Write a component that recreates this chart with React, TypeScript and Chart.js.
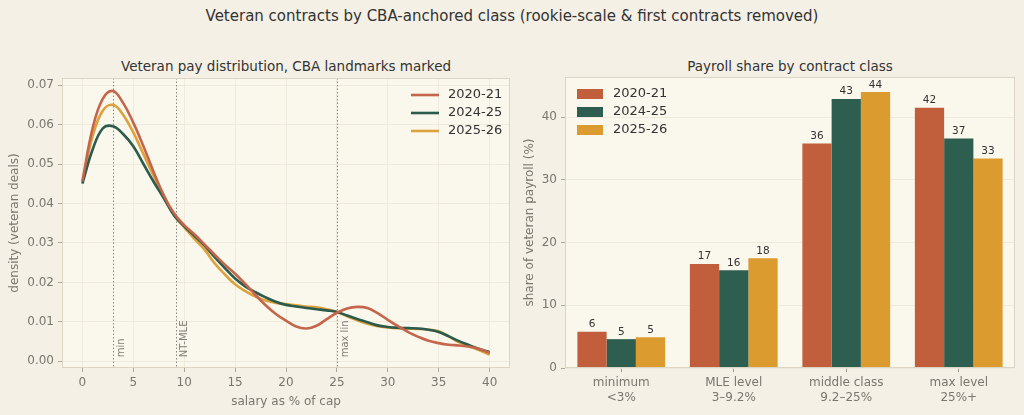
import { useEffect, useRef } from 'react';
import { Chart, registerables } from 'chart.js';

Chart.register(...registerables);

// ---- data ----
const seasons = ['2020-21', '2024-25', '2025-26'];
const lineColors = ['#c4664b', '#2c5a4b', '#dea23c'];
const barColors = ['#c15f3c', '#2e5e4f', '#dc9b2e'];

const salaryPct = [
  0, 1, 2, 3, 4, 5, 6, 7, 8, 9, 10, 11, 12, 13, 14, 15, 16, 17, 18, 19, 20,
  21, 22, 23, 24, 25, 26, 27, 28, 29, 30, 31, 32, 33, 34, 35, 36, 37, 38, 39, 40,
];
const density2021 = [
  0.0456, 0.059, 0.0665, 0.0685, 0.0655, 0.0605, 0.0545, 0.048, 0.042, 0.0375, 0.0345,
  0.0322, 0.0296, 0.027, 0.0245, 0.0222, 0.0196, 0.0168, 0.0142, 0.012, 0.0103,
  0.0088, 0.0083, 0.009, 0.0107, 0.0123, 0.0134, 0.0138, 0.0135, 0.0122, 0.0105,
  0.0089, 0.0074, 0.0062, 0.0052, 0.0046, 0.0042, 0.004, 0.0037, 0.0031, 0.0021,
];
const density2425 = [
  0.045, 0.0536, 0.059, 0.0596, 0.0576, 0.0545, 0.05, 0.0455, 0.0413, 0.037, 0.0342,
  0.0318, 0.0293, 0.0264, 0.0236, 0.021, 0.019, 0.0175, 0.0162, 0.0151, 0.0143,
  0.0139, 0.0135, 0.0132, 0.0129, 0.0125, 0.0116, 0.0107, 0.0099, 0.0091, 0.0087,
  0.0085, 0.0084, 0.0083, 0.008, 0.0074, 0.0063, 0.0051, 0.0041, 0.0031, 0.0023,
];
const density2526 = [
  0.0456, 0.057, 0.0635, 0.065, 0.0625, 0.058, 0.0525, 0.047, 0.042, 0.037, 0.034,
  0.031, 0.0283, 0.0248, 0.022, 0.0195, 0.0178, 0.0164, 0.0154, 0.0148, 0.0145,
  0.0142, 0.0139, 0.0137, 0.0132, 0.0125, 0.0114, 0.0104, 0.0095, 0.0089, 0.0086,
  0.0084, 0.0083, 0.0082, 0.008, 0.0076, 0.0063, 0.0048, 0.0038, 0.0028, 0.0017,
];
const landmarks = [3, 9.2, 25];
const landmarkLabels = ['min', 'NT-MLE', 'max lin'];
const salaryTicks = [0, 5, 10, 15, 20, 25, 30, 35, 40];
const densityTicks = [0, 0.01, 0.02, 0.03, 0.04, 0.05, 0.06, 0.07];

const contractClasses = [
  ['minimum', '<3%'],
  ['MLE level', '3–9.2%'],
  ['middle class', '9.2–25%'],
  ['max level', '25%+'],
];
const share2021 = [5.8, 16.6, 35.8, 41.5];
const share2425 = [4.6, 15.6, 42.9, 36.6];
const share2526 = [4.9, 17.5, 44.0, 33.4];
const shareTicks = [0, 10, 20, 30, 40];

// ---- styling ----
const FONT = '"DejaVu Sans", sans-serif';
const FIG_BG = '#f4f0e5';
const AX_BG = '#faf7ec';
const GRID = '#ebe6d8';
const SPINE = '#dcd5c4';
const TICK_TEXT = '#7a7670';
const DARK = '#333333';

Chart.defaults.font.family = FONT;
Chart.defaults.color = TICK_TEXT;

// axes background + frame like matplotlib
const axesFrame = {
  id: 'axesFrame',
  beforeDraw(chart: Chart) {
    const { ctx, chartArea: a } = chart;
    ctx.save();
    ctx.fillStyle = AX_BG;
    ctx.fillRect(a.left, a.top, a.right - a.left, a.bottom - a.top);
    ctx.restore();
  },
  afterDraw(chart: Chart) {
    const { ctx, chartArea: a } = chart;
    ctx.save();
    ctx.strokeStyle = SPINE;
    ctx.lineWidth = 1;
    ctx.strokeRect(a.left + 0.5, a.top + 0.5, a.right - a.left - 1, a.bottom - a.top - 1);
    ctx.restore();
  },
};

// dotted CBA landmark lines with rotated labels
const landmarkLines = {
  id: 'landmarkLines',
  beforeDatasetsDraw(chart: Chart) {
    const { ctx, chartArea: a } = chart;
    const x = chart.scales.x;
    const y = chart.scales.y;
    ctx.save();
    landmarks.forEach((v, i) => {
      const px = Math.round(x.getPixelForValue(v)) + 0.5;
      ctx.strokeStyle = '#8a8680';
      ctx.lineWidth = 1;
      ctx.setLineDash([1.5, 2]);
      ctx.beginPath();
      ctx.moveTo(px, a.top);
      ctx.lineTo(px, a.bottom);
      ctx.stroke();
      ctx.setLineDash([]);
      ctx.save();
      ctx.translate(x.getPixelForValue(v + 0.35), y.getPixelForValue(0.001));
      ctx.rotate(-Math.PI / 2);
      ctx.font = `10px ${FONT}`;
      ctx.fillStyle = '#807c76';
      ctx.textAlign = 'left';
      ctx.textBaseline = 'top';
      ctx.fillText(landmarkLabels[i], 0, 0);
      ctx.restore();
    });
    ctx.restore();
  },
};

// legend drawn inside the plot area
function innerLegend(kind: 'line' | 'box') {
  return {
    id: 'innerLegend',
    afterDraw(chart: Chart) {
      const { ctx, chartArea: a } = chart;
      ctx.save();
      ctx.font = `13px ${FONT}`;
      ctx.textBaseline = 'middle';
      ctx.textAlign = 'left';
      seasons.forEach((s, i) => {
        const cy = a.top + 17 + i * 18;
        if (kind === 'line') {
          const x0 = a.right - 99;
          ctx.strokeStyle = lineColors[i];
          ctx.lineWidth = 2.6;
          ctx.beginPath();
          ctx.moveTo(x0, cy);
          ctx.lineTo(x0 + 28, cy);
          ctx.stroke();
          ctx.fillStyle = DARK;
          ctx.fillText(s, x0 + 37, cy);
        } else {
          const x0 = a.left + 12;
          ctx.fillStyle = barColors[i];
          ctx.fillRect(x0, cy - 5, 26, 10);
          ctx.fillStyle = DARK;
          ctx.fillText(s, x0 + 36, cy);
        }
      });
      ctx.restore();
    },
  };
}

// rounded value above each bar
const barValues = {
  id: 'barValues',
  afterDatasetsDraw(chart: Chart) {
    const { ctx } = chart;
    ctx.save();
    ctx.font = `10.5px ${FONT}`;
    ctx.fillStyle = DARK;
    ctx.textAlign = 'center';
    ctx.textBaseline = 'bottom';
    chart.data.datasets.forEach((ds, di) => {
      chart.getDatasetMeta(di).data.forEach((bar: any, i) => {
        const v = ds.data[i] as number;
        ctx.fillText(String(Math.round(v)), bar.x, bar.y - 2);
      });
    });
    ctx.restore();
  },
};

function DensityChart() {
  const ref = useRef<HTMLCanvasElement>(null);
  useEffect(() => {
    if (!ref.current) return;
    const series = [density2021, density2425, density2526];
    const chart = new Chart(ref.current, {
      type: 'line',
      data: {
        datasets: series.map((d, i) => ({
          label: seasons[i],
          data: salaryPct.map((x, j) => ({ x, y: d[j] })),
          borderColor: lineColors[i],
          borderWidth: 2.6,
          pointRadius: 0,
          tension: 0.4,
          fill: false,
        })),
      },
      options: {
        animation: false,
        responsive: false,
        layout: { padding: { top: 18, right: 2, left: 0, bottom: 0 } },
        plugins: { legend: { display: false }, tooltip: { enabled: false } },
        scales: {
          x: {
            type: 'linear',
            min: -2,
            max: 42,
            afterBuildTicks: (s: any) => {
              s.ticks = salaryTicks.map((v) => ({ value: v }));
            },
            afterFit: (s: any) => {
              s.height = 47;
            },
            grid: { color: GRID, tickColor: '#9a958d', tickLength: 4, lineWidth: 0.8 },
            border: { display: false },
            ticks: { font: { size: 12 }, color: TICK_TEXT, padding: 4, maxRotation: 0 },
            title: {
              display: true,
              text: 'salary as % of cap',
              font: { size: 12 },
              color: TICK_TEXT,
              padding: { top: 0, bottom: 6 },
            },
          },
          y: {
            min: -0.0017,
            max: 0.0718,
            afterBuildTicks: (s: any) => {
              s.ticks = densityTicks.map((v) => ({ value: v }));
            },
            afterFit: (s: any) => {
              s.width = 62;
            },
            grid: { color: GRID, tickColor: '#9a958d', tickLength: 4, lineWidth: 0.8 },
            border: { display: false },
            ticks: {
              font: { size: 12 },
              color: TICK_TEXT,
              padding: 4,
              callback: (v: any) => Number(v).toFixed(2),
            },
            title: {
              display: true,
              text: 'density (veteran deals)',
              font: { size: 12 },
              color: TICK_TEXT,
              padding: { top: 8, bottom: 0 },
            },
          },
        },
      },
      plugins: [axesFrame, landmarkLines, innerLegend('line')],
    });
    return () => chart.destroy();
  }, []);
  return <canvas ref={ref} width={512} height={355} style={{ width: 512, height: 355 }} />;
}

function ShareChart() {
  const ref = useRef<HTMLCanvasElement>(null);
  useEffect(() => {
    if (!ref.current) return;
    const series = [share2021, share2425, share2526];
    const chart = new Chart(ref.current, {
      type: 'bar',
      data: {
        labels: contractClasses,
        datasets: series.map((d, i) => ({
          label: seasons[i],
          data: d,
          backgroundColor: barColors[i],
          borderWidth: 0,
          categoryPercentage: 0.78,
          barPercentage: 1,
        })),
      },
      options: {
        animation: false,
        responsive: false,
        layout: { padding: { top: 17, right: 9, left: 0, bottom: 0 } },
        plugins: { legend: { display: false }, tooltip: { enabled: false } },
        scales: {
          x: {
            afterFit: (s: any) => {
              s.height = 47;
            },
            grid: {
              offset: false,
              drawOnChartArea: false,
              tickColor: '#9a958d',
              tickLength: 4,
            },
            border: { display: false },
            ticks: { font: { size: 12, lineHeight: 1.2 }, color: TICK_TEXT, padding: 4, maxRotation: 0 },
          },
          y: {
            min: 0,
            max: 46.4,
            afterBuildTicks: (s: any) => {
              s.ticks = shareTicks.map((v) => ({ value: v }));
            },
            afterFit: (s: any) => {
              s.width = 53;
            },
            grid: { color: GRID, tickColor: '#9a958d', tickLength: 4, lineWidth: 0.8 },
            border: { display: false },
            ticks: { font: { size: 12 }, color: TICK_TEXT, padding: 4 },
            title: {
              display: true,
              text: 'share of veteran payroll (%)',
              font: { size: 12 },
              color: TICK_TEXT,
              padding: { top: 11, bottom: 0 },
            },
          },
        },
      },
      plugins: [axesFrame, barValues, innerLegend('box')],
    });
    return () => chart.destroy();
  }, []);
  return <canvas ref={ref} width={512} height={355} style={{ width: 512, height: 355 }} />;
}

export default function App() {
  const titleStyle = {
    position: 'absolute' as const,
    fontFamily: FONT,
    color: DARK,
    whiteSpace: 'nowrap' as const,
    transform: 'translateX(-50%)',
  };
  return (
    <div
      style={{
        position: 'fixed',
        left: 0,
        top: 0,
        width: 1024,
        height: 415,
        background: FIG_BG,
        overflow: 'hidden',
      }}
    >
      <div style={{ ...titleStyle, left: 512, top: 7, fontSize: 15 }}>
        Veteran contracts by CBA-anchored class (rookie-scale &amp; first contracts removed)
      </div>
      <div style={{ ...titleStyle, left: 286, top: 58, fontSize: 13.5 }}>
        Veteran pay distribution, CBA landmarks marked
      </div>
      <div style={{ ...titleStyle, left: 790, top: 58, fontSize: 13.5 }}>
        Payroll share by contract class
      </div>
      <div style={{ position: 'absolute', left: 0, top: 60 }}>
        <DensityChart />
      </div>
      <div style={{ position: 'absolute', left: 512, top: 60 }}>
        <ShareChart />
      </div>
    </div>
  );
}
